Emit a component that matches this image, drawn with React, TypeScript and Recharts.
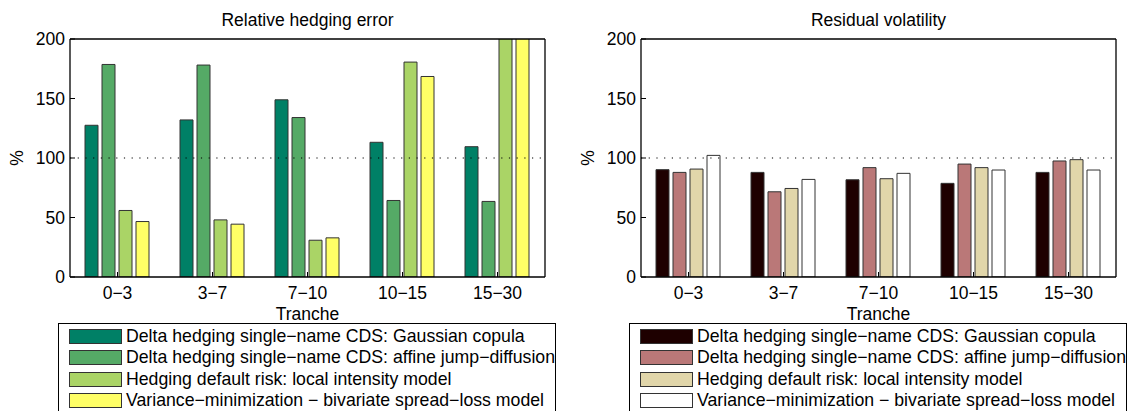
import React from 'react';
import { BarChart, Bar, XAxis, YAxis, ReferenceLine, Legend } from 'recharts';

const tranches = ['0−3', '3−7', '7−10', '10−15', '15−30'];
const seriesNames = [
  'Delta hedging single−name CDS: Gaussian copula',
  'Delta hedging single−name CDS: affine jump−diffusion',
  'Hedging default risk: local intensity model',
  'Variance−minimization − bivariate spread−loss model',
];
const yTicks = [0, 50, 100, 150, 200];

// Relative hedging error (%)
const errGaussian = [127.5, 132, 148.9, 113.2, 109.5];
const errAffine = [178.6, 178.1, 134, 64.3, 63.5];
const errLocal = [55.9, 48, 30.9, 180.6, 230];
const errVarMin = [46.6, 44.4, 32.9, 168.5, 250];

// Residual volatility (%)
const volGaussian = [90.2, 87.9, 81.7, 78.7, 87.9];
const volAffine = [87.9, 71.6, 91.9, 94.9, 97.5];
const volLocal = [90.7, 74.4, 82.6, 91.9, 98.6];
const volVarMin = [102.2, 82, 87.1, 89.9, 89.9];

const summerColors = ['#008066', '#55AA66', '#AAD466', '#FFFF66'];
const pinkColors = ['#1E0000', '#BA7878', '#E1D6AA', '#FFFFFF'];

const FONT = '"Liberation Sans", Arial, Helvetica, sans-serif';
const FS = 17.5;
const LFS = 17.7;

function buildRows(series: number[][]) {
  return tranches.map((t, i) => ({
    tranche: t,
    s0: series[0][i],
    s1: series[1][i],
    s2: series[2][i],
    s3: series[3][i],
  }));
}

function LegendBox({ colors }: { colors: string[] }) {
  return (
    <div style={{ paddingTop: 2 }}>
      {seriesNames.map((n, i) => (
        <div
          key={n}
          style={{
            display: 'flex',
            alignItems: 'center',
            height: 21.5,
            fontFamily: FONT,
            fontSize: LFS,
            color: '#000',
            whiteSpace: 'nowrap',
          }}
        >
          <div
            style={{
              width: 53,
              height: 15,
              marginLeft: 10,
              marginRight: 4,
              background: colors[i],
              border: '1px solid #333',
              boxSizing: 'border-box',
              flex: '0 0 auto',
            }}
          />
          <span>{n}</span>
        </div>
      ))}
    </div>
  );
}

function Panel({ title, series, colors, left }: { title: string; series: number[][]; colors: string[]; left: number }) {
  const data = buildRows(series);
  const plotL = 70;
  const plotR = 545;
  const cx = (plotL + plotR) / 2;
  return (
    <div style={{ position: 'absolute', left, top: 0 }}>
      <BarChart
        width={563}
        height={411}
        data={data}
        margin={{ top: 38, right: 17, bottom: 84, left: 0 }}
        barCategoryGap={15}
        barGap={4}
      >
        {['s0', 's1', 's2', 's3'].map((k, i) => (
          <Bar
            key={k}
            dataKey={k}
            name={seriesNames[i]}
            fill={colors[i]}
            stroke="#333"
            strokeWidth={1}
            isAnimationActive={false}
          />
        ))}
        <ReferenceLine y={100} stroke="#000" strokeWidth={1.2} strokeDasharray="1.2 6.5" />
        <XAxis
          dataKey="tranche"
          interval={0}
          height={50}
          tickSize={-5}
          tickMargin={15}
          axisLine={{ stroke: '#000', strokeWidth: 1.3 }}
          tickLine={{ stroke: '#000' }}
          tick={{ fill: '#000', fontSize: FS, fontFamily: FONT }}
        />
        <XAxis
          xAxisId="top"
          orientation="top"
          dataKey="tranche"
          interval={0}
          height={1}
          tickSize={-5}
          tick={false}
          axisLine={{ stroke: '#000', strokeWidth: 1.3 }}
          tickLine={{ stroke: '#000' }}
        />
        <YAxis
          domain={[0, 200]}
          ticks={yTicks}
          allowDataOverflow
          width={70}
          tickSize={-5}
          tickMargin={10}
          axisLine={{ stroke: '#000', strokeWidth: 1.3 }}
          tickLine={{ stroke: '#000' }}
          tick={{ fill: '#000', fontSize: FS, fontFamily: FONT }}
        />
        <YAxis
          yAxisId="right"
          orientation="right"
          domain={[0, 200]}
          ticks={yTicks}
          width={1}
          tickSize={-5}
          tick={false}
          axisLine={{ stroke: '#000', strokeWidth: 1.3 }}
          tickLine={{ stroke: '#000' }}
        />
        <Legend
          layout="vertical"
          align="center"
          verticalAlign="middle"
          wrapperStyle={{
            position: 'absolute',
            left: 58,
            top: 322.7,
            width: 498,
            height: 100,
            border: '1px solid #000',
            boxSizing: 'border-box',
            background: '#fff',
          }}
          content={() => <LegendBox colors={colors} />}
        />
        <text x={cx} y={26} textAnchor="middle" fontFamily={FONT} fontSize={FS} fill="#000">
          {title}
        </text>
        <text x={cx} y={320} textAnchor="middle" fontFamily={FONT} fontSize={FS} fill="#000">
          Tranche
        </text>
        <text
          x={17}
          y={158}
          textAnchor="middle"
          dominantBaseline="central"
          fontFamily={FONT}
          fontSize={FS}
          fill="#000"
          transform="rotate(-90, 17, 158)"
        >
          %
        </text>
      </BarChart>
    </div>
  );
}

export default function App() {
  return (
    <div
      style={{
        position: 'absolute',
        left: 0,
        top: 0,
        width: 1127,
        height: 411,
        overflow: 'hidden',
        background: '#fff',
      }}
    >
      <Panel
        title="Relative hedging error"
        series={[errGaussian, errAffine, errLocal, errVarMin]}
        colors={summerColors}
        left={0}
      />
      <Panel
        title="Residual volatility"
        series={[volGaussian, volAffine, volLocal, volVarMin]}
        colors={pinkColors}
        left={571}
      />
    </div>
  );
}
